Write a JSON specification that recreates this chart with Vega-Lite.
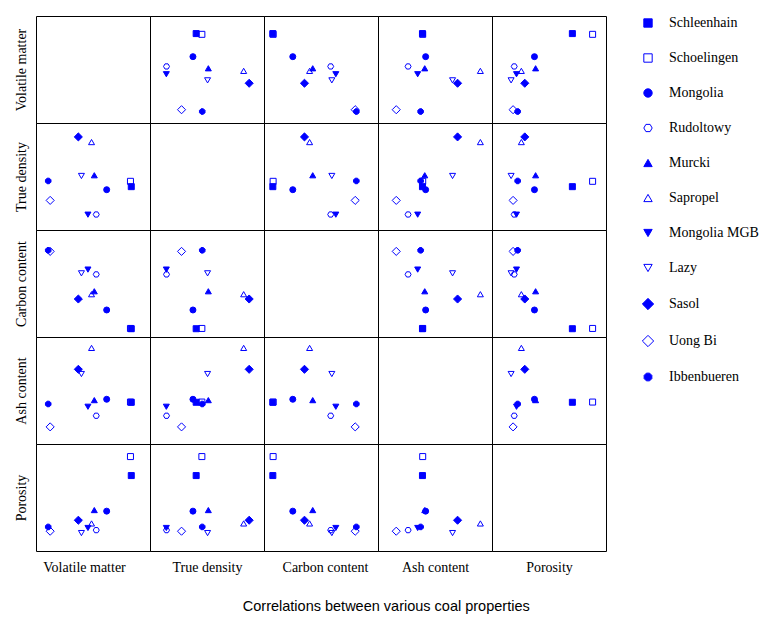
{
  "$schema": "https://vega.github.io/schema/vega-lite/v6.json",
  "padding": {"left": 13, "top": 15, "right": 5, "bottom": 5},
  "background": "white",
  "title": {"text": "Correlations between various coal properties", "orient": "bottom", "anchor": "middle", "font": "Liberation Sans", "fontSize": 14.5, "fontWeight": "normal", "color": "#000", "offset": 25},
  "data": {"values": [
    {"coal": "Schleenhain", "vm": 58.5, "td": 1.443, "cc": 63.1, "ac": 19.5, "por": 28.2},
    {"coal": "Schoelingen", "vm": 58.0, "td": 1.473, "cc": 63.2, "ac": 19.6, "por": 35.3},
    {"coal": "Mongolia", "vm": 43.4, "td": 1.426, "cc": 70.1, "ac": 20.9, "por": 14.9},
    {"coal": "Rudoltowy", "vm": 37.0, "td": 1.287, "cc": 83.4, "ac": 13.2, "por": 7.8},
    {"coal": "Murcki", "vm": 35.8, "td": 1.507, "cc": 77.1, "ac": 20.5, "por": 15.3},
    {"coal": "Sapropel", "vm": 34.1, "td": 1.693, "cc": 76.0, "ac": 44.9, "por": 10.3},
    {"coal": "Mongolia MGB", "vm": 31.9, "td": 1.286, "cc": 85.2, "ac": 17.4, "por": 8.6},
    {"coal": "Lazy", "vm": 27.9, "td": 1.503, "cc": 83.8, "ac": 32.7, "por": 6.7},
    {"coal": "Sasol", "vm": 26.0, "td": 1.722, "cc": 74.2, "ac": 34.9, "por": 11.5},
    {"coal": "Uong Bi", "vm": 8.7, "td": 1.366, "cc": 92.0, "ac": 8.0, "por": 7.4},
    {"coal": "Ibbenbueren", "vm": 7.5, "td": 1.475, "cc": 92.4, "ac": 18.7, "por": 9.0}
  ]},
  "columns": 5,
  "spacing": 0,
  "bounds": "flush",
  "concat": [
    {"width": 114, "height": 107, "mark": {"type": "point", "opacity": 0},
     "encoding": {"x": {"field": "vm", "type": "quantitative", "scale": {"domain": [0, 70], "nice": false}, "axis": null},
                  "y": {"field": "vm", "type": "quantitative", "scale": {"domain": [0, 70], "nice": false}, "axis": {"title": "Volatile matter"}}}},
    {"width": 114, "height": 107, "mark": {"type": "point", "filled": true, "stroke": "#0000ff", "strokeWidth": 1, "size": 36, "opacity": 1},
     "encoding": {"x": {"field": "td", "type": "quantitative", "scale": {"domain": [1.2, 1.8], "nice": false}, "axis": null},
                  "y": {"field": "vm", "type": "quantitative", "scale": {"domain": [0, 70], "nice": false}, "axis": null},
                  "shape": {"field": "coal", "type": "nominal", "sort": null, "legend": {"title": null, "encode": {"symbols": {"update": {"stroke": {"value": "#0000ff"}, "strokeWidth": {"value": 1}}}}}},
                  "fill": {"field": "coal", "type": "nominal", "sort": null, "legend": {"title": null, "encode": {"symbols": {"update": {"stroke": {"value": "#0000ff"}, "strokeWidth": {"value": 1}}}}}}}},
    {"width": 114, "height": 107, "mark": {"type": "point", "filled": true, "stroke": "#0000ff", "strokeWidth": 1, "size": 36, "opacity": 1},
     "encoding": {"x": {"field": "cc", "type": "quantitative", "scale": {"domain": [60, 100], "nice": false}, "axis": null},
                  "y": {"field": "vm", "type": "quantitative", "scale": {"domain": [0, 70], "nice": false}, "axis": null},
                  "shape": {"field": "coal", "type": "nominal", "sort": null, "legend": {"title": null, "encode": {"symbols": {"update": {"stroke": {"value": "#0000ff"}, "strokeWidth": {"value": 1}}}}}},
                  "fill": {"field": "coal", "type": "nominal", "sort": null, "legend": {"title": null, "encode": {"symbols": {"update": {"stroke": {"value": "#0000ff"}, "strokeWidth": {"value": 1}}}}}}}},
    {"width": 114, "height": 107, "mark": {"type": "point", "filled": true, "stroke": "#0000ff", "strokeWidth": 1, "size": 36, "opacity": 1},
     "encoding": {"x": {"field": "ac", "type": "quantitative", "scale": {"domain": [0, 50], "nice": false}, "axis": null},
                  "y": {"field": "vm", "type": "quantitative", "scale": {"domain": [0, 70], "nice": false}, "axis": null},
                  "shape": {"field": "coal", "type": "nominal", "sort": null, "legend": {"title": null, "encode": {"symbols": {"update": {"stroke": {"value": "#0000ff"}, "strokeWidth": {"value": 1}}}}}},
                  "fill": {"field": "coal", "type": "nominal", "sort": null, "legend": {"title": null, "encode": {"symbols": {"update": {"stroke": {"value": "#0000ff"}, "strokeWidth": {"value": 1}}}}}}}},
    {"width": 114, "height": 107, "mark": {"type": "point", "filled": true, "stroke": "#0000ff", "strokeWidth": 1, "size": 36, "opacity": 1},
     "encoding": {"x": {"field": "por", "type": "quantitative", "scale": {"domain": [0, 40], "nice": false}, "axis": null},
                  "y": {"field": "vm", "type": "quantitative", "scale": {"domain": [0, 70], "nice": false}, "axis": null},
                  "shape": {"field": "coal", "type": "nominal", "sort": null, "legend": {"title": null, "encode": {"symbols": {"update": {"stroke": {"value": "#0000ff"}, "strokeWidth": {"value": 1}}}}}},
                  "fill": {"field": "coal", "type": "nominal", "sort": null, "legend": {"title": null, "encode": {"symbols": {"update": {"stroke": {"value": "#0000ff"}, "strokeWidth": {"value": 1}}}}}}}},

    {"width": 114, "height": 107, "mark": {"type": "point", "filled": true, "stroke": "#0000ff", "strokeWidth": 1, "size": 36, "opacity": 1},
     "encoding": {"x": {"field": "vm", "type": "quantitative", "scale": {"domain": [0, 70], "nice": false}, "axis": null},
                  "y": {"field": "td", "type": "quantitative", "scale": {"domain": [1.2, 1.8], "nice": false}, "axis": {"title": "True density"}},
                  "shape": {"field": "coal", "type": "nominal", "sort": null, "legend": {"title": null, "encode": {"symbols": {"update": {"stroke": {"value": "#0000ff"}, "strokeWidth": {"value": 1}}}}}},
                  "fill": {"field": "coal", "type": "nominal", "sort": null, "legend": {"title": null, "encode": {"symbols": {"update": {"stroke": {"value": "#0000ff"}, "strokeWidth": {"value": 1}}}}}}}},
    {"width": 114, "height": 107, "mark": {"type": "point", "opacity": 0},
     "encoding": {"x": {"field": "td", "type": "quantitative", "scale": {"domain": [1.2, 1.8], "nice": false}, "axis": null},
                  "y": {"field": "td", "type": "quantitative", "scale": {"domain": [1.2, 1.8], "nice": false}, "axis": null}}},
    {"width": 114, "height": 107, "mark": {"type": "point", "filled": true, "stroke": "#0000ff", "strokeWidth": 1, "size": 36, "opacity": 1},
     "encoding": {"x": {"field": "cc", "type": "quantitative", "scale": {"domain": [60, 100], "nice": false}, "axis": null},
                  "y": {"field": "td", "type": "quantitative", "scale": {"domain": [1.2, 1.8], "nice": false}, "axis": null},
                  "shape": {"field": "coal", "type": "nominal", "sort": null, "legend": {"title": null, "encode": {"symbols": {"update": {"stroke": {"value": "#0000ff"}, "strokeWidth": {"value": 1}}}}}},
                  "fill": {"field": "coal", "type": "nominal", "sort": null, "legend": {"title": null, "encode": {"symbols": {"update": {"stroke": {"value": "#0000ff"}, "strokeWidth": {"value": 1}}}}}}}},
    {"width": 114, "height": 107, "mark": {"type": "point", "filled": true, "stroke": "#0000ff", "strokeWidth": 1, "size": 36, "opacity": 1},
     "encoding": {"x": {"field": "ac", "type": "quantitative", "scale": {"domain": [0, 50], "nice": false}, "axis": null},
                  "y": {"field": "td", "type": "quantitative", "scale": {"domain": [1.2, 1.8], "nice": false}, "axis": null},
                  "shape": {"field": "coal", "type": "nominal", "sort": null, "legend": {"title": null, "encode": {"symbols": {"update": {"stroke": {"value": "#0000ff"}, "strokeWidth": {"value": 1}}}}}},
                  "fill": {"field": "coal", "type": "nominal", "sort": null, "legend": {"title": null, "encode": {"symbols": {"update": {"stroke": {"value": "#0000ff"}, "strokeWidth": {"value": 1}}}}}}}},
    {"width": 114, "height": 107, "mark": {"type": "point", "filled": true, "stroke": "#0000ff", "strokeWidth": 1, "size": 36, "opacity": 1},
     "encoding": {"x": {"field": "por", "type": "quantitative", "scale": {"domain": [0, 40], "nice": false}, "axis": null},
                  "y": {"field": "td", "type": "quantitative", "scale": {"domain": [1.2, 1.8], "nice": false}, "axis": null},
                  "shape": {"field": "coal", "type": "nominal", "sort": null, "legend": {"title": null, "encode": {"symbols": {"update": {"stroke": {"value": "#0000ff"}, "strokeWidth": {"value": 1}}}}}},
                  "fill": {"field": "coal", "type": "nominal", "sort": null, "legend": {"title": null, "encode": {"symbols": {"update": {"stroke": {"value": "#0000ff"}, "strokeWidth": {"value": 1}}}}}}}},

    {"width": 114, "height": 107, "mark": {"type": "point", "filled": true, "stroke": "#0000ff", "strokeWidth": 1, "size": 36, "opacity": 1},
     "encoding": {"x": {"field": "vm", "type": "quantitative", "scale": {"domain": [0, 70], "nice": false}, "axis": null},
                  "y": {"field": "cc", "type": "quantitative", "scale": {"domain": [60, 100], "nice": false}, "axis": {"title": "Carbon content"}},
                  "shape": {"field": "coal", "type": "nominal", "sort": null, "legend": {"title": null, "encode": {"symbols": {"update": {"stroke": {"value": "#0000ff"}, "strokeWidth": {"value": 1}}}}}},
                  "fill": {"field": "coal", "type": "nominal", "sort": null, "legend": {"title": null, "encode": {"symbols": {"update": {"stroke": {"value": "#0000ff"}, "strokeWidth": {"value": 1}}}}}}}},
    {"width": 114, "height": 107, "mark": {"type": "point", "filled": true, "stroke": "#0000ff", "strokeWidth": 1, "size": 36, "opacity": 1},
     "encoding": {"x": {"field": "td", "type": "quantitative", "scale": {"domain": [1.2, 1.8], "nice": false}, "axis": null},
                  "y": {"field": "cc", "type": "quantitative", "scale": {"domain": [60, 100], "nice": false}, "axis": null},
                  "shape": {"field": "coal", "type": "nominal", "sort": null, "legend": {"title": null, "encode": {"symbols": {"update": {"stroke": {"value": "#0000ff"}, "strokeWidth": {"value": 1}}}}}},
                  "fill": {"field": "coal", "type": "nominal", "sort": null, "legend": {"title": null, "encode": {"symbols": {"update": {"stroke": {"value": "#0000ff"}, "strokeWidth": {"value": 1}}}}}}}},
    {"width": 114, "height": 107, "mark": {"type": "point", "opacity": 0},
     "encoding": {"x": {"field": "cc", "type": "quantitative", "scale": {"domain": [60, 100], "nice": false}, "axis": null},
                  "y": {"field": "cc", "type": "quantitative", "scale": {"domain": [60, 100], "nice": false}, "axis": null}}},
    {"width": 114, "height": 107, "mark": {"type": "point", "filled": true, "stroke": "#0000ff", "strokeWidth": 1, "size": 36, "opacity": 1},
     "encoding": {"x": {"field": "ac", "type": "quantitative", "scale": {"domain": [0, 50], "nice": false}, "axis": null},
                  "y": {"field": "cc", "type": "quantitative", "scale": {"domain": [60, 100], "nice": false}, "axis": null},
                  "shape": {"field": "coal", "type": "nominal", "sort": null, "legend": {"title": null, "encode": {"symbols": {"update": {"stroke": {"value": "#0000ff"}, "strokeWidth": {"value": 1}}}}}},
                  "fill": {"field": "coal", "type": "nominal", "sort": null, "legend": {"title": null, "encode": {"symbols": {"update": {"stroke": {"value": "#0000ff"}, "strokeWidth": {"value": 1}}}}}}}},
    {"width": 114, "height": 107, "mark": {"type": "point", "filled": true, "stroke": "#0000ff", "strokeWidth": 1, "size": 36, "opacity": 1},
     "encoding": {"x": {"field": "por", "type": "quantitative", "scale": {"domain": [0, 40], "nice": false}, "axis": null},
                  "y": {"field": "cc", "type": "quantitative", "scale": {"domain": [60, 100], "nice": false}, "axis": null},
                  "shape": {"field": "coal", "type": "nominal", "sort": null, "legend": {"title": null, "encode": {"symbols": {"update": {"stroke": {"value": "#0000ff"}, "strokeWidth": {"value": 1}}}}}},
                  "fill": {"field": "coal", "type": "nominal", "sort": null, "legend": {"title": null, "encode": {"symbols": {"update": {"stroke": {"value": "#0000ff"}, "strokeWidth": {"value": 1}}}}}}}},

    {"width": 114, "height": 107, "mark": {"type": "point", "filled": true, "stroke": "#0000ff", "strokeWidth": 1, "size": 36, "opacity": 1},
     "encoding": {"x": {"field": "vm", "type": "quantitative", "scale": {"domain": [0, 70], "nice": false}, "axis": null},
                  "y": {"field": "ac", "type": "quantitative", "scale": {"domain": [0, 50], "nice": false}, "axis": {"title": "Ash content"}},
                  "shape": {"field": "coal", "type": "nominal", "sort": null, "legend": {"title": null, "encode": {"symbols": {"update": {"stroke": {"value": "#0000ff"}, "strokeWidth": {"value": 1}}}}}},
                  "fill": {"field": "coal", "type": "nominal", "sort": null, "legend": {"title": null, "encode": {"symbols": {"update": {"stroke": {"value": "#0000ff"}, "strokeWidth": {"value": 1}}}}}}}},
    {"width": 114, "height": 107, "mark": {"type": "point", "filled": true, "stroke": "#0000ff", "strokeWidth": 1, "size": 36, "opacity": 1},
     "encoding": {"x": {"field": "td", "type": "quantitative", "scale": {"domain": [1.2, 1.8], "nice": false}, "axis": null},
                  "y": {"field": "ac", "type": "quantitative", "scale": {"domain": [0, 50], "nice": false}, "axis": null},
                  "shape": {"field": "coal", "type": "nominal", "sort": null, "legend": {"title": null, "encode": {"symbols": {"update": {"stroke": {"value": "#0000ff"}, "strokeWidth": {"value": 1}}}}}},
                  "fill": {"field": "coal", "type": "nominal", "sort": null, "legend": {"title": null, "encode": {"symbols": {"update": {"stroke": {"value": "#0000ff"}, "strokeWidth": {"value": 1}}}}}}}},
    {"width": 114, "height": 107, "mark": {"type": "point", "filled": true, "stroke": "#0000ff", "strokeWidth": 1, "size": 36, "opacity": 1},
     "encoding": {"x": {"field": "cc", "type": "quantitative", "scale": {"domain": [60, 100], "nice": false}, "axis": null},
                  "y": {"field": "ac", "type": "quantitative", "scale": {"domain": [0, 50], "nice": false}, "axis": null},
                  "shape": {"field": "coal", "type": "nominal", "sort": null, "legend": {"title": null, "encode": {"symbols": {"update": {"stroke": {"value": "#0000ff"}, "strokeWidth": {"value": 1}}}}}},
                  "fill": {"field": "coal", "type": "nominal", "sort": null, "legend": {"title": null, "encode": {"symbols": {"update": {"stroke": {"value": "#0000ff"}, "strokeWidth": {"value": 1}}}}}}}},
    {"width": 114, "height": 107, "mark": {"type": "point", "opacity": 0},
     "encoding": {"x": {"field": "ac", "type": "quantitative", "scale": {"domain": [0, 50], "nice": false}, "axis": null},
                  "y": {"field": "ac", "type": "quantitative", "scale": {"domain": [0, 50], "nice": false}, "axis": null}}},
    {"width": 114, "height": 107, "mark": {"type": "point", "filled": true, "stroke": "#0000ff", "strokeWidth": 1, "size": 36, "opacity": 1},
     "encoding": {"x": {"field": "por", "type": "quantitative", "scale": {"domain": [0, 40], "nice": false}, "axis": null},
                  "y": {"field": "ac", "type": "quantitative", "scale": {"domain": [0, 50], "nice": false}, "axis": null},
                  "shape": {"field": "coal", "type": "nominal", "sort": null, "legend": {"title": null, "encode": {"symbols": {"update": {"stroke": {"value": "#0000ff"}, "strokeWidth": {"value": 1}}}}}},
                  "fill": {"field": "coal", "type": "nominal", "sort": null, "legend": {"title": null, "encode": {"symbols": {"update": {"stroke": {"value": "#0000ff"}, "strokeWidth": {"value": 1}}}}}}}},

    {"width": 114, "height": 107, "mark": {"type": "point", "filled": true, "stroke": "#0000ff", "strokeWidth": 1, "size": 36, "opacity": 1},
     "encoding": {"x": {"field": "vm", "type": "quantitative", "scale": {"domain": [0, 70], "nice": false}, "axis": {"title": "Volatile matter", "titleX": 48}},
                  "y": {"field": "por", "type": "quantitative", "scale": {"domain": [0, 40], "nice": false}, "axis": {"title": "Porosity"}},
                  "shape": {"field": "coal", "type": "nominal", "sort": null, "legend": {"title": null, "encode": {"symbols": {"update": {"stroke": {"value": "#0000ff"}, "strokeWidth": {"value": 1}}}}}},
                  "fill": {"field": "coal", "type": "nominal", "sort": null, "legend": {"title": null, "encode": {"symbols": {"update": {"stroke": {"value": "#0000ff"}, "strokeWidth": {"value": 1}}}}}}}},
    {"width": 114, "height": 107, "mark": {"type": "point", "filled": true, "stroke": "#0000ff", "strokeWidth": 1, "size": 36, "opacity": 1},
     "encoding": {"x": {"field": "td", "type": "quantitative", "scale": {"domain": [1.2, 1.8], "nice": false}, "axis": {"title": "True density"}},
                  "y": {"field": "por", "type": "quantitative", "scale": {"domain": [0, 40], "nice": false}, "axis": null},
                  "shape": {"field": "coal", "type": "nominal", "sort": null, "legend": {"title": null, "encode": {"symbols": {"update": {"stroke": {"value": "#0000ff"}, "strokeWidth": {"value": 1}}}}}},
                  "fill": {"field": "coal", "type": "nominal", "sort": null, "legend": {"title": null, "encode": {"symbols": {"update": {"stroke": {"value": "#0000ff"}, "strokeWidth": {"value": 1}}}}}}}},
    {"width": 114, "height": 107, "mark": {"type": "point", "filled": true, "stroke": "#0000ff", "strokeWidth": 1, "size": 36, "opacity": 1},
     "encoding": {"x": {"field": "cc", "type": "quantitative", "scale": {"domain": [60, 100], "nice": false}, "axis": {"title": "Carbon content", "titleX": 61}},
                  "y": {"field": "por", "type": "quantitative", "scale": {"domain": [0, 40], "nice": false}, "axis": null},
                  "shape": {"field": "coal", "type": "nominal", "sort": null, "legend": {"title": null, "encode": {"symbols": {"update": {"stroke": {"value": "#0000ff"}, "strokeWidth": {"value": 1}}}}}},
                  "fill": {"field": "coal", "type": "nominal", "sort": null, "legend": {"title": null, "encode": {"symbols": {"update": {"stroke": {"value": "#0000ff"}, "strokeWidth": {"value": 1}}}}}}}},
    {"width": 114, "height": 107, "mark": {"type": "point", "filled": true, "stroke": "#0000ff", "strokeWidth": 1, "size": 36, "opacity": 1},
     "encoding": {"x": {"field": "ac", "type": "quantitative", "scale": {"domain": [0, 50], "nice": false}, "axis": {"title": "Ash content"}},
                  "y": {"field": "por", "type": "quantitative", "scale": {"domain": [0, 40], "nice": false}, "axis": null},
                  "shape": {"field": "coal", "type": "nominal", "sort": null, "legend": {"title": null, "encode": {"symbols": {"update": {"stroke": {"value": "#0000ff"}, "strokeWidth": {"value": 1}}}}}},
                  "fill": {"field": "coal", "type": "nominal", "sort": null, "legend": {"title": null, "encode": {"symbols": {"update": {"stroke": {"value": "#0000ff"}, "strokeWidth": {"value": 1}}}}}}}},
    {"width": 114, "height": 107, "mark": {"type": "point", "opacity": 0},
     "encoding": {"x": {"field": "por", "type": "quantitative", "scale": {"domain": [0, 40], "nice": false}, "axis": {"title": "Porosity"}},
                  "y": {"field": "por", "type": "quantitative", "scale": {"domain": [0, 40], "nice": false}, "axis": null}}}
  ],
  "config": {
    "view": {"stroke": "#000", "strokeWidth": 1},
    "axis": {"labels": false, "ticks": false, "domain": false, "grid": false, "minExtent": 0, "maxExtent": 0,
             "titleFont": "Liberation Serif", "titleFontSize": 14, "titleFontWeight": "normal", "titleColor": "#000"},
    "axisX": {"titlePadding": 9},
    "axisY": {"titlePadding": 8},
    "range": {
      "category": ["#0000ff", "transparent", "#0000ff", "transparent", "#0000ff", "transparent", "#0000ff", "transparent", "#0000ff", "transparent", "#0000ff"],
      "symbol": ["square", "square", "circle", "M-1,0L-0.5,-0.866L0.5,-0.866L1,0L0.5,0.866L-0.5,0.866Z", "triangle-up", "triangle-up", "triangle-down", "triangle-down", "M0,-1.35L1.35,0L0,1.35L-1.35,0Z", "M0,-1.35L1.35,0L0,1.35L-1.35,0Z", "M-0.383,-0.924L0.383,-0.924L0.924,-0.383L0.924,0.383L0.383,0.924L-0.383,0.924L-0.924,0.383L-0.924,-0.383Z"]
    },
    "legend": {"orient": "none", "legendX": 605, "legendY": 0, "padding": 0, "rowPadding": 21,
               "symbolSize": 70, "symbolStrokeWidth": 1, "symbolOpacity": 1,
               "labelFont": "Liberation Serif", "labelFontSize": 14, "labelColor": "#000", "labelOffset": 14, "labelLimit": 200}
  }
}
